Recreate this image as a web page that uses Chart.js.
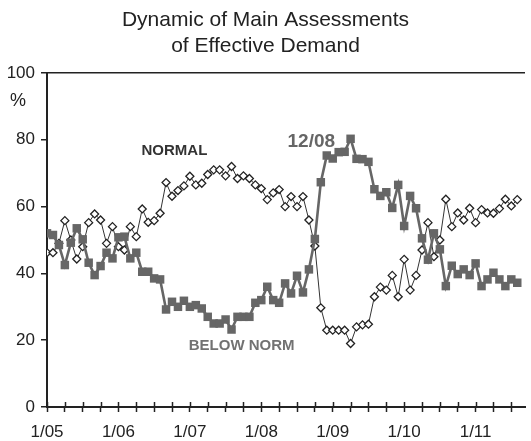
<!DOCTYPE html>
<html><head><meta charset="utf-8">
<script src="https://cdn.jsdelivr.net/npm/chart.js@4.4.1/dist/chart.umd.min.js"></script>
<style>html,body{margin:0;padding:0;background:#fff;}</style>
</head><body>
<canvas id="c" width="531" height="441"></canvas>
<script>
// ---- data ----
const titleLines = ['Dynamic of Main Assessments', 'of Effective Demand'];
const yearTicks = ['1/05', '1/06', '1/07', '1/08', '1/09', '1/10', '1/11'];
const seriesNames = ['NORMAL', 'BELOW NORM'];
const peakLabel = '12/08';
const unitLabel = '%';
// monthly values, January 2005 .. August 2011
const normal = [46.2, 46.2, 49, 55.8, 50, 44.3, 48, 55.2, 57.8, 56,
  49, 54, 48, 47, 54, 51, 59.3, 55.3, 55.8, 58,
  67.2, 63.1, 64.8, 66.2, 69.1, 66.5, 67, 69.6, 71, 71,
  69.2, 72, 68.4, 69.2, 68.4, 66.5, 65.4, 62.1, 64.1, 65.1,
  60, 63, 60, 63, 56, 48.2, 29.7, 23, 23, 23,
  23, 19, 24, 24.6, 24.8, 33, 35.9, 35, 39.4, 33,
  44.2, 35, 39.4, 47, 55.2, 45, 50, 62.2, 54, 58.1,
  56, 59.5, 55.2, 59.1, 58.1, 58, 59.4, 62.2, 60.2, 62.1];
const belowNorm = [52, 51.5, 48.5, 42.5, 49.2, 53.5, 50.2, 43.2, 39.5, 42.2,
  46.2, 44.5, 50.8, 51, 44.5, 46.2, 40.5, 40.5, 38.5, 38.2,
  29.2, 31.5, 30, 31.8, 30, 30.5, 29.5, 27, 25, 25,
  26.2, 23.2, 27, 27, 27, 31.2, 32, 36, 32, 31.2,
  37, 34, 39.3, 34.3, 41.2, 50.3, 67.3, 75.3, 74.4, 76.3,
  76.4, 80.3, 74.3, 74.2, 73.4, 65.2, 63.2, 64.3, 59.6, 66.5,
  54.2, 63.2, 59.5, 50.5, 44.1, 52, 47.2, 36.2, 42.3, 39.8,
  41.2, 39.5, 43, 36.2, 38.2, 40.2, 38.2, 36.2, 38.2, 37.2];

const FONT = "'Liberation Sans', Arial, Helvetica, sans-serif";
const toXY = arr => arr.map((v, i) => ({x: i, y: v}));

const annotate = {
  id: 'annotate',
  afterDatasetsDraw(chart) {
    const ctx = chart.ctx, xs = chart.scales.x, ys = chart.scales.y;
    ctx.save();
    ctx.textAlign = 'center';
    ctx.textBaseline = 'middle';
    ctx.font = 'bold 15px ' + FONT;
    ctx.fillStyle = '#333';
    ctx.fillText(seriesNames[0], xs.getPixelForValue(21.4), ys.getPixelForValue(76.6));
    ctx.fillStyle = '#727272';
    ctx.fillText(seriesNames[1], xs.getPixelForValue(32.7), ys.getPixelForValue(18.3));
    ctx.font = 'bold 19px ' + FONT;
    ctx.fillStyle = '#666';
    ctx.fillText(peakLabel, xs.getPixelForValue(44.4), ys.getPixelForValue(79.3));
    ctx.font = '18px ' + FONT;
    ctx.fillStyle = '#222';
    ctx.fillText(unitLabel, chart.chartArea.left - 29, ys.getPixelForValue(91.6));
    // inner half of the crossing x ticks
    ctx.strokeStyle = '#222';
    ctx.lineWidth = 1.5;
    const yb = chart.chartArea.bottom;
    xs.ticks.forEach(t => {
      const px = Math.round(xs.getPixelForValue(t.value)) + 0.5;
      ctx.beginPath(); ctx.moveTo(px, yb - 5); ctx.lineTo(px, yb); ctx.stroke();
    });
    ctx.restore();
  }
};

new Chart(document.getElementById('c'), {
  type: 'line',
  data: {
    datasets: [
      {
        label: seriesNames[1],
        data: toXY(belowNorm),
        borderColor: '#666',
        borderWidth: 2.6,
        pointStyle: 'rect',
        pointRadius: 6,
        pointBackgroundColor: '#666',
        pointBorderColor: '#666',
        pointBorderWidth: 0,
        tension: 0,
        order: 1
      },
      {
        label: seriesNames[0],
        data: toXY(normal),
        borderColor: '#333',
        borderWidth: 1,
        pointStyle: 'rectRot',
        pointRadius: 4,
        pointBackgroundColor: '#fff',
        pointBorderColor: '#222',
        pointBorderWidth: 1.3,
        tension: 0,
        order: 2
      }
    ]
  },
  options: {
    responsive: false,
    animation: false,
    events: [],
    layout: {padding: {top: 0, left: 0, right: 0, bottom: 0}},
    plugins: {
      legend: {display: false},
      tooltip: {enabled: false},
      title: {
        display: true,
        text: titleLines,
        color: '#222',
        font: {family: FONT, size: 21, weight: 'normal', lineHeight: 1.2},
        padding: {top: 8, bottom: 14.6}
      }
    },
    scales: {
      x: {
        type: 'linear',
        min: 0,
        max: 80.3,
        afterFit(s) { s.height = 34; },
        border: {display: true, color: '#222', width: 2},
        grid: {drawOnChartArea: false, drawTicks: true, tickLength: 5, tickColor: '#222', tickWidth: 1.5},
        ticks: {
          stepSize: 3,
          autoSkip: false,
          includeBounds: false,
          maxRotation: 0,
          padding: 10,
          color: '#222',
          font: {family: FONT, size: 17},
          callback: v => (v % 12 === 0 ? yearTicks[v / 12] : '')
        }
      },
      y: {
        min: 0,
        max: 100,
        afterFit(s) { s.width = 47; },
        border: {display: true, color: '#222', width: 2},
        grid: {
          drawOnChartArea: true,
          color: c => (c.tick && c.tick.value === 100 ? '#222' : 'rgba(0,0,0,0)'),
          lineWidth: 1.5,
          tickLength: 6,
          tickColor: '#222',
          tickWidth: 1.5
        },
        ticks: {
          stepSize: 20,
          padding: 6,
          color: '#222',
          font: {family: FONT, size: 17}
        }
      }
    }
  },
  plugins: [annotate]
});
</script>
</body></html>
